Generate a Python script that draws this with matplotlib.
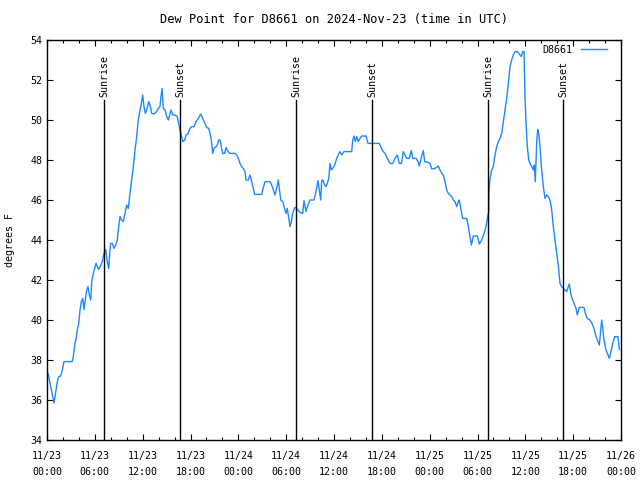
import matplotlib
matplotlib.use("Agg")
from matplotlib import pyplot as plt
import matplotlib.dates as mdates
import pandas as pd
import numpy as np

# hours since 2024-11-23 00:00 UTC and dew point (F)
hours = [0.13, 0.88, 1.29, 1.47, 1.72, 1.92, 2.13, 3.17, 3.30, 3.47, 3.64, 3.80, 3.98, 4.14, 4.30,
         4.48, 4.64, 4.80, 4.98, 5.14, 5.31, 5.48, 5.64, 5.81, 6.15, 6.31, 6.49, 6.74, 6.94, 7.15,
         7.36, 7.56, 7.74, 7.90, 7.99, 8.19, 8.40, 8.62, 8.82, 8.94, 9.16, 9.37, 9.57, 9.78, 10.00,
         10.20, 10.41, 10.62, 10.83, 11.04, 11.25, 11.45, 11.67, 11.88, 12.00, 12.17, 12.33, 12.51, 12.76, 12.92,
         13.13, 13.42, 13.76, 13.96, 14.17, 14.30, 14.43, 14.59, 14.80, 15.02, 15.22, 15.43, 15.55, 15.77, 16.06,
         16.34, 16.52, 16.68, 16.85, 17.02, 17.27, 17.44, 17.72, 17.94, 18.15, 18.44, 18.69, 18.98, 19.28, 19.53,
         19.82, 20.03, 20.28, 20.45, 20.61, 20.79, 20.95, 21.20, 21.36, 21.54, 21.70, 21.86, 22.04, 22.29, 22.45,
         22.62, 22.87, 23.58, 23.80, 24.00, 24.21, 24.42, 24.62, 24.84, 24.96, 25.25, 25.46, 25.68, 25.88, 26.05,
         26.93, 27.13, 27.35, 27.97, 28.19, 28.39, 28.60, 28.81, 29.01, 29.14, 29.32, 29.57, 29.73, 29.98, 30.14,
         30.32, 30.48, 30.65, 30.82, 31.07, 31.32, 31.65, 31.74, 32.07, 32.24, 32.49, 32.65, 32.99, 33.49, 33.74,
         33.99, 34.16, 34.33, 34.46, 34.62, 34.83, 35.00, 35.16, 35.34, 35.50, 35.66, 35.84, 36.09, 36.34, 36.59,
         36.75, 36.97, 37.26, 38.22, 38.35, 38.51, 38.67, 38.85, 39.05, 39.26, 39.48, 40.02, 40.27, 41.68, 41.99,
         42.19, 42.40, 42.69, 43.03, 43.37, 43.65, 43.94, 44.19, 44.47, 44.69, 44.91, 45.12, 45.45, 45.70, 45.87,
         46.29, 46.54, 46.70, 46.88, 47.04, 47.20, 47.38, 47.83, 48.04, 48.26, 48.67, 48.88, 49.08, 49.30, 49.51,
         49.71, 49.93, 50.14, 50.34, 50.55, 50.77, 50.97, 51.18, 51.39, 51.60, 51.72, 51.90, 52.14, 52.65, 52.85,
         53.06, 53.23, 53.48, 53.98, 54.23, 54.53, 54.82, 55.07, 55.23, 55.41, 55.45, 55.54, 55.78, 55.98, 56.20,
         56.41, 56.61, 56.83, 57.04, 57.24, 57.45, 57.66, 57.87, 58.08, 58.29, 58.49, 58.71, 59.00, 59.25, 59.50,
         59.67, 59.84, 59.96, 60.09, 60.25, 60.43, 60.59, 60.80, 61.00, 61.13, 61.25, 61.43, 61.55, 61.68, 61.84,
         62.05, 62.26, 62.47, 62.68, 62.88, 63.09, 63.31, 63.51, 63.72, 63.93, 64.14, 64.35, 64.56, 64.76, 64.98,
         65.19, 65.39, 65.52, 65.69, 65.86, 66.11, 66.36, 66.52, 66.77, 67.36, 67.52, 67.78, 68.11, 68.36, 68.61,
         68.87, 69.12, 69.28, 69.46, 69.58, 69.71, 69.87, 70.12, 70.37, 70.54, 70.79, 70.96, 71.21, 71.62, 71.79]

dewpoint = [37.33, 35.85, 36.9, 37.17, 37.2, 37.5, 37.92, 37.92, 38.17, 38.75, 39.03, 39.5, 39.83, 40.5, 40.9,
            41.08, 40.53, 41.0, 41.5, 41.67, 41.25, 41.0, 42.0, 42.33, 42.83, 42.67, 42.53, 42.75, 42.92, 43.33,
            43.53, 42.92, 42.58, 43.5, 43.83, 43.83, 43.58, 43.75, 44.0, 44.5, 45.17, 45.0, 44.92, 45.33, 45.75,
            45.58, 46.33, 47.0, 47.67, 48.5, 49.17, 50.0, 50.5, 50.92, 51.25, 50.67, 50.33, 50.5, 50.92, 50.75,
            50.33, 50.3, 50.42, 50.58, 50.67, 51.17, 51.58, 50.58, 50.5, 50.17, 50.0, 50.33, 50.5, 50.25, 50.25,
            50.17, 49.83, 49.5, 49.25, 48.92, 49.0, 49.25, 49.33, 49.58, 49.67, 49.67, 49.92, 50.08, 50.3, 50.08,
            49.83, 49.63, 49.58, 49.33, 49.0, 48.33, 48.58, 48.67, 48.75, 49.0, 49.0, 48.67, 48.33, 48.33, 48.63,
            48.5, 48.33, 48.33, 48.25, 48.08, 47.83, 47.67, 47.58, 47.42, 47.0, 47.0, 47.25, 46.92, 46.58, 46.28,
            46.28, 46.63, 46.92, 46.92, 46.75, 46.5, 46.25, 46.58, 47.0, 46.58, 46.0, 45.92, 45.67, 45.33, 45.58,
            45.08, 44.67, 44.92, 45.33, 45.63, 45.58, 45.42, 45.37, 45.33, 45.97, 45.42, 45.67, 46.0, 46.0, 46.42,
            46.97, 46.5, 46.0, 47.0, 46.97, 46.75, 46.67, 46.83, 47.08, 47.83, 47.5, 47.58, 47.75, 48.08, 48.3,
            48.42, 48.25, 48.42, 48.42, 49.0, 49.2, 48.92, 49.17, 48.92, 49.08, 49.2, 49.2, 48.83, 48.83, 48.55,
            48.42, 48.33, 48.08, 47.83, 47.83, 48.08, 48.25, 47.83, 47.83, 48.42, 48.25, 48.08, 48.08, 48.47, 48.08,
            48.08, 47.92, 47.7, 48.0, 48.25, 48.47, 47.92, 47.88, 47.83, 47.55, 47.58, 47.63, 47.7, 47.5, 47.33,
            47.25, 46.92, 46.5, 46.33, 46.25, 46.17, 46.0, 45.92, 45.67, 45.92, 46.0, 45.58, 45.08, 45.08, 44.67,
            44.17, 43.75, 44.2, 44.2, 43.8, 44.0, 44.33, 44.67, 45.08, 45.42, 46.4, 47.0, 47.5, 47.67, 48.25,
            48.67, 48.92, 49.08, 49.33, 49.92, 50.5, 51.08, 51.83, 52.67, 53.0, 53.25, 53.42, 53.42, 53.3, 53.17,
            53.42, 53.42, 51.08, 49.83, 48.67, 48.0, 47.83, 47.67, 47.5, 47.75, 46.92, 48.92, 49.53, 49.33, 48.67,
            47.5, 46.67, 46.08, 46.25, 46.17, 46.0, 45.5, 44.67, 44.0, 43.33, 42.7, 41.83, 41.67, 41.58, 41.5,
            41.42, 41.67, 41.8, 41.33, 41.08, 40.83, 40.58, 40.25, 40.63, 40.63, 40.33, 40.08, 40.0, 39.83, 39.58,
            39.17, 38.92, 38.75, 39.5, 40.0, 39.58, 39.0, 38.5, 38.25, 38.08, 38.5, 38.83, 39.17, 39.17, 38.53]

sun_times = ["2024-11-23 07:09", "2024-11-23 16:41", "2024-11-24 07:14",
             "2024-11-24 16:46", "2024-11-25 07:19", "2024-11-25 16:44"]
sun_labels = ["Sunrise", "Sunset", "Sunrise", "Sunset", "Sunrise", "Sunset"]

start = pd.Timestamp("2024-11-23 00:00")
end = pd.Timestamp("2024-11-26 00:00")
times = start + pd.to_timedelta(np.array(hours), unit="h")

font = "DejaVu Sans Mono"
plt.rcParams["font.family"] = font
plt.rcParams["font.size"] = 7.2

fig = plt.figure(figsize=(6.4, 4.8), dpi=100)
ax = fig.add_axes([47 / 640, 40 / 480, 574 / 640, 400 / 480])

ax.plot(times, dewpoint, color="#1e88ff", linewidth=1, label="D8661")

for t, lab in zip(sun_times, sun_labels):
    ts = pd.Timestamp(t)
    ax.plot([ts, ts], [34, 51], color="black", linewidth=1)
    ax.text(ts, 51.15, lab, rotation=90, ha="center", va="bottom")

ax.set_xlim(start, end)
ax.set_ylim(34, 54)
ax.set_yticks(np.arange(34, 55, 2))
ax.xaxis.set_major_locator(mdates.HourLocator(byhour=range(0, 24, 6)))
ax.xaxis.set_minor_locator(mdates.HourLocator(byhour=range(0, 24, 2)))
ax.xaxis.set_major_formatter(mdates.DateFormatter("%m/%d\n%H:%M"))
ax.tick_params(which="both", direction="in", top=True, right=True, labelsize=7.2, colors="black")
ax.tick_params(which="major", length=4.5, width=0.8)
ax.tick_params(axis="x", which="major", pad=8)
ax.tick_params(which="minor", length=2.5, width=0.8)
for lbl in ax.get_xticklabels():
    lbl.set_linespacing(1.7)
for s in ax.spines.values():
    s.set_linewidth(1)

ax.set_ylabel("degrees F", labelpad=11)
ax.set_title("Dew Point for D8661 on 2024-Nov-23 (time in UTC)", pad=12)
ax.legend(loc="upper right", bbox_to_anchor=(0.985, 1.0), frameon=False, markerfirst=False,
          handlelength=2.6, handletextpad=0.9, borderaxespad=0.1)

fig.savefig("out.png", dpi=100)
